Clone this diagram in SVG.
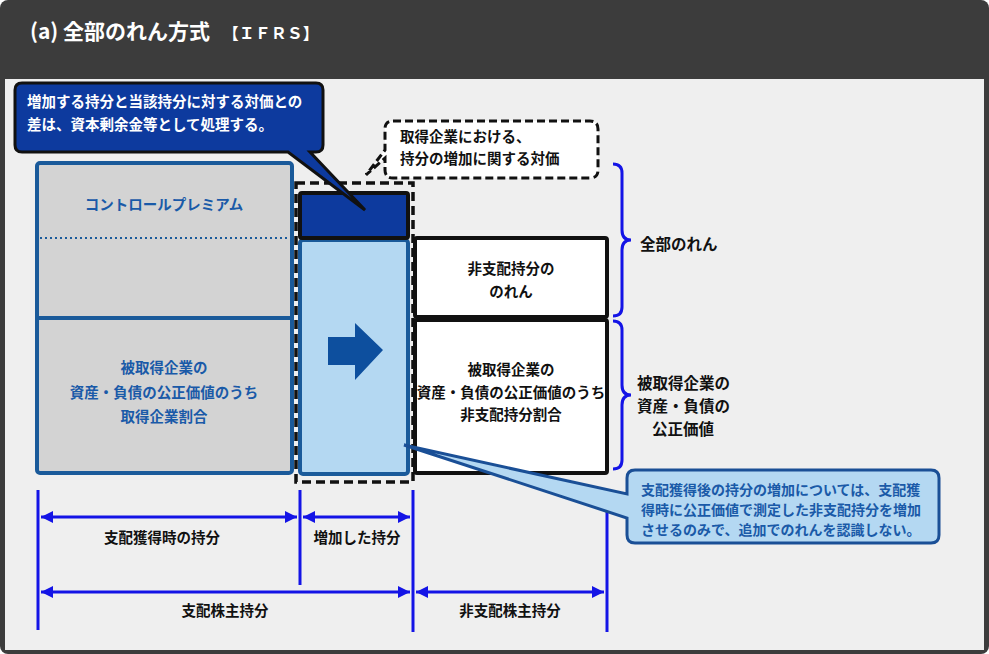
<svg xmlns="http://www.w3.org/2000/svg" width="989" height="654" viewBox="0 0 989 654">
<defs>
<marker id="ah" viewBox="0 0 10 10" refX="10" refY="5" markerWidth="4" markerHeight="4" orient="auto-start-reverse"><path d="M0,0L10,5L0,10z" fill="#1414e6"/></marker>
<style>
text{font-family:"Noto Sans CJK JP","Noto Sans",sans-serif;font-weight:bold;}
.b{fill:#1a5aa8;font-size:14.5px;text-anchor:middle}
.k{fill:#111;font-size:14.5px;text-anchor:middle}
.w{fill:#fff;font-size:14.5px}
.dim{stroke:#1414e6;stroke-width:3;fill:none}
</style>
</defs>
<rect width="989" height="654" rx="8" fill="#3c3c3c"/>
<rect x="5" y="79" width="979" height="571" fill="#efefef"/>
<text x="30" y="39" style="fill:#fff;font-size:21px">(a) 全部のれん方式 <tspan font-size="16" dx="8">【ＩＦＲＳ】</tspan></text>

<g id="left">
<rect x="37" y="163" width="255" height="310" rx="3" fill="#d3d3d3" stroke="#1a5a9a" stroke-width="4"/>
<line x1="38" y1="318" x2="291" y2="318" stroke="#1a5a9a" stroke-width="4"/>
<line x1="40" y1="238" x2="290" y2="238" stroke="#1a5a9a" stroke-width="2" stroke-dasharray="2,3"/>
<text class="b" x="164" y="210" font-size="15">コントロールプレミアム</text>
<text class="b" x="164" y="373">被取得企業の</text>
<text class="b" x="164" y="398">資産・負債の公正価値のうち</text>
<text class="b" x="164" y="422">取得企業割合</text>
</g>
<g id="mid">
<rect x="296" y="183" width="117" height="299" fill="none" stroke="#111" stroke-width="3.5" stroke-dasharray="9,5"/>
<rect x="300" y="240" width="108" height="234" rx="3" fill="#b4d8f2" stroke="#1a5a9a" stroke-width="4"/>
<rect x="300" y="193" width="108" height="45" rx="2" fill="#0d3a9e" stroke="#111" stroke-width="4"/>
<polygon points="328,337 355,337 355,323 383,350 355,380 355,365 328,365" fill="#0d4f9e"/>
</g>
<g id="right">
<rect x="415" y="238" width="192" height="79" rx="2" fill="#fff" stroke="#111" stroke-width="4"/>
<rect x="415" y="320" width="192" height="153" rx="2" fill="#fff" stroke="#111" stroke-width="4"/>
<text class="k" x="511" y="274" font-size="15.5">非支配持分の</text>
<text class="k" x="511" y="297" font-size="15.5">のれん</text>
<text class="k" x="511" y="375" font-size="13">被取得企業の</text>
<text class="k" x="511" y="398" font-size="13">資産・負債の公正価値のうち</text>
<text class="k" x="511" y="420" font-size="13">非支配持分割合</text>
</g>
<g id="braces" fill="none" stroke="#1414e6" stroke-width="3">
<path d="M613,164 q9,0 9,9 v57 q0,10 9,10 q-9,0 -9,10 v57 q0,9 -9,9"/>
<path d="M613,321 q9,0 9,9 v55 q0,10 9,10 q-9,0 -9,10 v55 q0,9 -9,9"/>
</g>
<text x="640" y="250" style="fill:#111;font-size:15.5px">全部のれん</text>
<text x="637" y="389" style="fill:#111;font-size:15.5px">被取得企業の</text>
<text x="637" y="412" style="fill:#111;font-size:15.5px">資産・負債の</text>
<text x="652" y="435" style="fill:#111;font-size:15.5px">公正価値</text>

<g id="connectors">
<line class="dim" x1="38" y1="490" x2="38" y2="630"/>
<line class="dim" x1="300" y1="490" x2="300" y2="585"/>
<line class="dim" x1="413" y1="490" x2="413" y2="632"/>
<line class="dim" x1="607" y1="490" x2="607" y2="632"/>
<line class="dim" x1="41" y1="517" x2="297" y2="517" marker-start="url(#ah)" marker-end="url(#ah)"/>
<line class="dim" x1="303" y1="517" x2="410" y2="517" marker-start="url(#ah)" marker-end="url(#ah)"/>
<line class="dim" x1="41" y1="592" x2="410" y2="592" marker-start="url(#ah)" marker-end="url(#ah)"/>
<line class="dim" x1="416" y1="592" x2="604" y2="592" marker-start="url(#ah)" marker-end="url(#ah)"/>
</g>

<g id="callout1">
<path d="M22,83 H316 q7,0 7,7 V145 q0,7 -7,7 H310 L365,210 L288,152 H22 q-7,0 -7,-7 V90 q0,-7 7,-7z" fill="#0d3a9e" stroke="#111" stroke-width="3"/>
<text class="w" x="27" y="107">増加する持分と当該持分に対する対価との</text>
<text class="w" x="27" y="130">差は、資本剰余金等として処理する。</text>
</g>
<g id="callout2">
<path d="M393,121 H590 q8,0 8,8 V170 q0,8 -8,8 H393 q-8,0 -8,-8 V158 L366,175 L385,150 V129 q0,-8 8,-8z" fill="#fff" stroke="#111" stroke-width="3" stroke-dasharray="8,4"/>
<text x="400" y="142" style="fill:#111;font-size:14.5px">取得企業における、</text>
<text x="400" y="164" style="fill:#111;font-size:14.5px">持分の増加に関する対価</text>
</g>
<g id="callout3">
<path d="M635,470 H931 q8,0 8,8 V535 q0,8 -8,8 H635 q-8,0 -8,-8 V518 L404,445 L627,494 V478 q0,-8 8,-8z" fill="#b4d8f2" stroke="#1a4f96" stroke-width="3"/>
<text x="641" y="495" style="fill:#1a5aa8;font-size:14px">支配獲得後の持分の増加については、支配獲</text>
<text x="641" y="515" style="fill:#1a5aa8;font-size:14px">得時に公正価値で測定した非支配持分を増加</text>
<text x="641" y="535" style="fill:#1a5aa8;font-size:14px">させるのみで、追加でのれんを認識しない。</text>
</g>
<text class="k" x="162" y="543">支配獲得時の持分</text>
<text class="k" x="357" y="543">増加した持分</text>
<text class="k" x="225" y="616">支配株主持分</text>
<text class="k" x="510" y="616">非支配株主持分</text>
</svg>
